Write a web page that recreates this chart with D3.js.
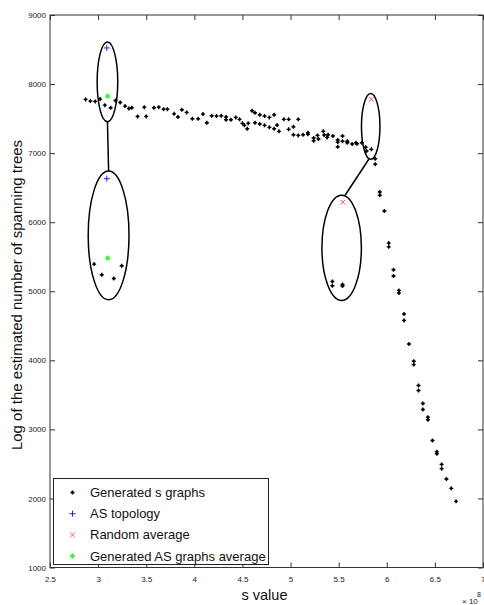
<!DOCTYPE html>
<html>
<head>
<meta charset="utf-8">
<script src="https://cdn.jsdelivr.net/npm/d3@7"></script>
<style>
  body { margin: 0; background: #fff; }
  svg { display: block; font-family: "Liberation Sans", Arial, sans-serif; }
</style>
</head>
<body>
<div id="chart"></div>
<script>
// generated s graphs (s value in units of 1e8, log of spanning tree count)
let sValues = [2.87, 2.92, 2.97, 3.02, 3.07, 3.13, 3.18, 3.23, 3.28, 3.32, 3.35, 3.41, 3.48, 3.50, 3.58, 3.63,
    3.68, 3.72, 3.79, 3.83, 3.87, 3.92, 3.98, 4.04, 4.09, 4.13, 4.18, 4.23, 4.28, 4.33, 4.33, 4.38, 4.43, 4.47,
    4.50, 4.52, 4.55, 4.56, 4.60, 4.63, 4.63, 4.68, 4.68, 4.73, 4.73, 4.78, 4.78, 4.83, 4.83, 4.86, 4.88, 4.93,
    4.98, 4.98, 5.03, 5.03, 5.08, 5.08, 5.13, 5.18, 5.18, 5.24, 5.24, 5.28, 5.29, 5.34, 5.35, 5.38, 5.39, 5.44,
    5.49, 5.49, 5.49, 5.54, 5.54, 5.59, 5.59, 5.64, 5.68, 5.69, 5.74, 5.78, 5.79, 5.84, 5.88, 5.88,
    5.927, 5.927, 5.975, 6.02, 6.02, 6.07, 6.07, 6.126, 6.126, 6.18, 6.18, 6.23, 6.28, 6.28, 6.33, 6.33,
    6.375, 6.375, 6.427, 6.427, 6.475, 6.52, 6.52, 6.57, 6.57, 6.62, 6.67, 6.72,
    2.959, 3.038, 3.163, 3.245, 5.435, 5.435, 5.54, 5.54];
let logTrees = [7778, 7753, 7749, 7782, 7695, 7656, 7763, 7734, 7681, 7647, 7656, 7532, 7666, 7532, 7656, 7666,
    7637, 7637, 7569, 7522, 7627, 7590, 7497, 7497, 7565, 7439, 7541, 7536, 7541, 7522, 7483, 7483, 7517, 7489,
    7431, 7402, 7353, 7431, 7613, 7584, 7439, 7555, 7421, 7536, 7402, 7517, 7373, 7555, 7353, 7406, 7315, 7489,
    7489, 7344, 7382, 7266, 7257, 7489, 7266, 7295, 7272, 7218, 7179, 7257, 7204, 7315, 7262, 7228, 7266, 7247,
    7160, 7189, 7093, 7247, 7171, 7171, 7150, 7132, 7150, 7136, 7150, 7084, 7030, 7055, 6919, 6838,
    6438, 6390, 6163, 5697, 5643, 5311, 5220, 5012, 4974, 4671, 4578, 4237, 3986, 3938, 3635, 3563,
    3375, 3288, 3177, 3139, 2840, 2677, 2648, 2493, 2431, 2281, 2146, 1958,
    5393, 5239, 5185, 5369, 5142, 5080, 5098, 5075];

let asX = [3.09, 3.09];
let asY = [8523, 6630];
let randomX = [5.84, 5.543];
let randomY = [7778, 6289];
let genAvgX = [3.10, 3.10];
let genAvgY = [7825, 5480];

// highlight ellipses: centre x, centre y, radius x, radius y (data units)
let ellipseCx = [3.097, 3.109, 5.833, 5.531];
let ellipseCy = [8032, 5809, 7387, 5629];
let ellipseRx = [0.107, 0.212, 0.096, 0.205];
let ellipseRy = [578, 932, 477, 762];
// connectors between ellipses: [x1, y1, x2, y2]
let connectors = [[3.097, 7454, 3.109, 6741], [5.813, 6911, 5.567, 6390]];

let xTicks = [2.5, 3, 3.5, 4, 4.5, 5, 5.5, 6, 6.5, 7];
let yTicks = [1000, 2000, 3000, 4000, 5000, 6000, 7000, 8000, 9000];
let legendLabels = ["Generated s graphs", "AS topology", "Random average", "Generated AS graphs average"];

let width = 484, height = 605;
let plotLeft = 50, plotRight = 483, plotTop = 15, plotBottom = 567.5;

let svg = d3.select("#chart").append("svg")
    .attr("width", width)
    .attr("height", height);

let x = d3.scaleLinear().domain([2.5, 7]).range([plotLeft, plotRight]);
let y = d3.scaleLinear().domain([1000, 9000]).range([plotBottom, plotTop]);

//Axes, ticks pointing inward on all four sides
let axisColor = "#333";
function styleAxis(g) {
    g.select(".domain").remove();
    g.selectAll(".tick line").attr("stroke", axisColor);
    g.selectAll(".tick text").attr("fill", "#222").attr("font-size", "8px");
}
let xAxisG = svg.append("g")
    .attr("transform", "translate(0," + plotBottom + ")")
    .call(d3.axisBottom(x).tickValues(xTicks).tickFormat(d3.format("")).tickSize(-5).tickPadding(9))
    .call(styleAxis);
//keep the last label inside the page edge
xAxisG.selectAll(".tick text").filter(d => d === xTicks[xTicks.length - 1])
    .attr("text-anchor", "end").attr("dx", "2px");
svg.append("g")
    .attr("transform", "translate(0," + plotTop + ")")
    .call(d3.axisTop(x).tickValues(xTicks).tickFormat("").tickSize(-5))
    .call(styleAxis);
svg.append("g")
    .attr("transform", "translate(" + plotLeft + ",0)")
    .call(d3.axisLeft(y).tickValues(yTicks).tickFormat(d3.format("d")).tickSize(-5).tickPadding(4))
    .call(styleAxis);
svg.append("g")
    .attr("transform", "translate(" + plotRight + ",0)")
    .call(d3.axisRight(y).tickValues(yTicks).tickFormat("").tickSize(-5))
    .call(styleAxis);

svg.append("rect")
    .attr("x", plotLeft).attr("y", plotTop)
    .attr("width", plotRight - plotLeft).attr("height", plotBottom - plotTop)
    .attr("fill", "none").attr("stroke", axisColor).attr("stroke-width", 1);

//marker shapes
function plusPath(cx, cy, r) {
    return "M" + (cx - r) + "," + cy + "H" + (cx + r) + "M" + cx + "," + (cy - r) + "V" + (cy + r);
}
function crossPath(cx, cy, r) {
    return "M" + (cx - r) + "," + (cy - r) + "L" + (cx + r) + "," + (cy + r) +
        "M" + (cx - r) + "," + (cy + r) + "L" + (cx + r) + "," + (cy - r);
}
function drawGenerated(g, cx, cy) {
    g.append("path").attr("d", plusPath(cx, cy, 2)).attr("stroke", "#000").attr("stroke-width", 1.4);
    g.append("circle").attr("cx", cx).attr("cy", cy).attr("r", 1.2).attr("fill", "#000");
}
function drawAS(g, cx, cy) {
    g.append("path").attr("d", plusPath(cx, cy, 3)).attr("stroke", "#2020ff").attr("stroke-width", 1);
}
function drawRandom(g, cx, cy) {
    g.append("path").attr("d", crossPath(cx, cy, 2.3)).attr("stroke", "#ff5050").attr("stroke-width", 1);
}
function drawGenAvg(g, cx, cy) {
    g.append("path").attr("d", plusPath(cx, cy, 2.5) + crossPath(cx, cy, 1.8))
        .attr("stroke", "#00e000").attr("stroke-width", 1);
    g.append("circle").attr("cx", cx).attr("cy", cy).attr("r", 1.6).attr("fill", "#30ff30");
}

//ellipses and connectors
let annot = svg.append("g");
ellipseCx.forEach((cx, i) => {
    annot.append("ellipse")
        .attr("cx", x(cx))
        .attr("cy", y(ellipseCy[i]))
        .attr("rx", x(cx + ellipseRx[i]) - x(cx))
        .attr("ry", y(ellipseCy[i] - ellipseRy[i]) - y(ellipseCy[i]))
        .attr("fill", "none").attr("stroke", "#000").attr("stroke-width", 1.5);
});
connectors.forEach(c => {
    annot.append("line")
        .attr("x1", x(c[0])).attr("y1", y(c[1]))
        .attr("x2", x(c[2])).attr("y2", y(c[3]))
        .attr("stroke", "#000").attr("stroke-width", 1.5);
});

let marks = svg.append("g");
sValues.forEach((s, i) => drawGenerated(marks, x(s), y(logTrees[i])));
asX.forEach((s, i) => drawAS(marks, x(s), y(asY[i])));
randomX.forEach((s, i) => drawRandom(marks, x(s), y(randomY[i])));
genAvgX.forEach((s, i) => drawGenAvg(marks, x(s), y(genAvgY[i])));

//Legend
let legend = svg.append("g");
legend.append("rect")
    .attr("x", 53.5).attr("y", 478.5).attr("width", 215).attr("height", 86)
    .attr("fill", "#fff").attr("stroke", "#222").attr("stroke-width", 1);
let legendDraw = [drawGenerated, drawAS, drawRandom, drawGenAvg];
legendLabels.forEach((label, i) => {
    let cy = 492.5 + i * 21.2;
    legendDraw[i](legend, 72.5, cy);
    legend.append("text")
        .attr("x", 90).attr("y", cy + 4.5)
        .attr("font-size", "13px").attr("fill", "#111")
        .text(label);
});

//Axis labels
svg.append("text")
    .attr("x", 264.5).attr("y", 600)
    .attr("text-anchor", "middle")
    .attr("font-size", "14.5px").attr("fill", "#111")
    .text("s value");
svg.append("text")
    .attr("text-anchor", "middle")
    .attr("transform", "translate(21.5,295)rotate(-90)")
    .attr("font-size", "15px").attr("fill", "#111")
    .text("Log of the estimated number of spanning trees");

//exponent note
svg.append("text")
    .attr("x", 462).attr("y", 604)
    .attr("font-size", "8px").attr("fill", "#222")
    .text("\u00d7 10");
svg.append("text")
    .attr("x", 477).attr("y", 597)
    .attr("font-size", "7px").attr("fill", "#222")
    .text("8");
</script>
</body>
</html>
